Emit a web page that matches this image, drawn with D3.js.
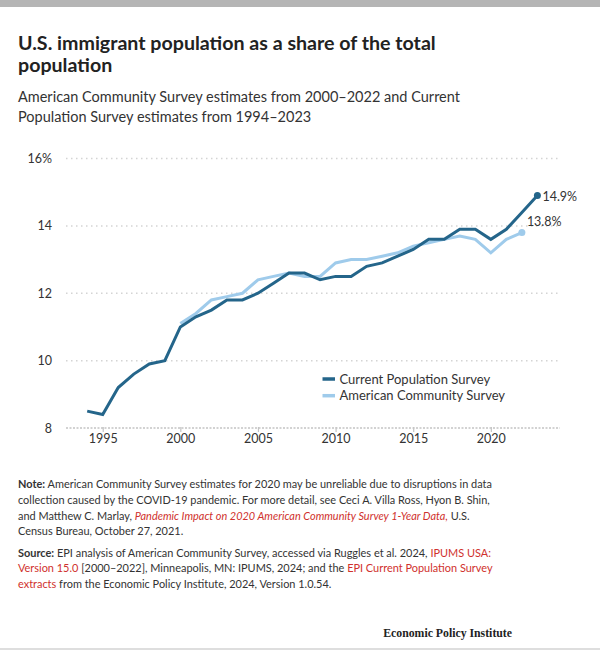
<!DOCTYPE html>
<html>
<head>
<meta charset="utf-8">
<script src="https://cdn.jsdelivr.net/npm/d3@7"></script>
<style>
  html, body { margin: 0; padding: 0; background: #fff; }
  svg { display: block; }
</style>
</head>
<body>
<svg id="chart" width="600" height="652"></svg>
<script>
// ---------- DATA ----------
const cpsYears = [1994,1995,1996,1997,1998,1999,2000,2001,2002,2003,2004,2005,2006,2007,2008,2009,2010,2011,2012,2013,2014,2015,2016,2017,2018,2019,2020,2021,2022,2023];
const cpsValues = [8.5,8.4,9.2,9.6,9.9,10.0,11.0,11.3,11.5,11.8,11.8,12.0,12.3,12.6,12.6,12.4,12.5,12.5,12.8,12.9,13.1,13.3,13.6,13.6,13.9,13.9,13.6,13.9,14.4,14.9];
const acsYears = [2000,2001,2002,2003,2004,2005,2006,2007,2008,2009,2010,2011,2012,2013,2014,2015,2016,2017,2018,2019,2020,2021,2022];
const acsValues = [11.1,11.4,11.8,11.9,12.0,12.4,12.5,12.6,12.5,12.5,12.9,13.0,13.0,13.1,13.2,13.4,13.5,13.6,13.7,13.6,13.2,13.6,13.8];
const seriesNames = ["Current Population Survey", "American Community Survey"];
const yTicks = [8, 10, 12, 14, 16];
const xTicks = [1995, 2000, 2005, 2010, 2015, 2020];

const titleLines = ["U.S. immigrant population as a share of the total", "population"];
const subtitleLines = ["American Community Survey estimates from 2000\u20132022 and Current", "Population Survey estimates from 1994\u20132023"];

// ---------- STYLE ----------
const darkBlue = "#24658a";
const lightBlue = "#9fcbeb";
const textColor = "#333333";
const red = "#d0312d";
const sans = "Lato, 'Open Sans', sans-serif";

const svg = d3.select("#chart");

// fit a text element's font-size so that its first line spans the target width
function fitSize(sel, baseSize, target, lineSel) {
  sel.attr("font-size", baseSize);
  const node = lineSel ? lineSel.node() : sel.node();
  const w = node.getComputedTextLength();
  const fs = baseSize * target / w;
  sel.attr("font-size", fs);
  return fs;
}

// frame
svg.append("rect").attr("x", 0).attr("y", 0).attr("width", 600).attr("height", 7).attr("fill", "#b5b5b5");
svg.append("rect").attr("x", 0).attr("y", 648).attr("width", 600).attr("height", 2).attr("fill", "#dedede");

// title
const title = svg.append("text").attr("font-family", sans).attr("font-weight", 700)
  .attr("font-size", 20).attr("fill", "#222");
const tl = titleLines.map((t, i) => title.append("tspan").attr("x", 18).attr("y", 50 + i * 21.5).text(t));
fitSize(title, 20, 418, tl[0]);

const sub = svg.append("text").attr("font-family", sans).attr("font-size", 16).attr("fill", textColor);
const sl = subtitleLines.map((t, i) => sub.append("tspan").attr("x", 18).attr("y", 102 + i * 20).text(t));
fitSize(sub, 16, 442, sl[0]);

// scales
const x = d3.scaleLinear().domain([1994, 2023]).range([87.2, 537.4]);
const y = d3.scaleLinear().domain([8, 16]).range([428, 158.5]);
const gridLeft = 66, gridRight = 560;

// gridlines
const g = svg.append("g");
g.selectAll("line.grid").data(yTicks).join("line")
  .attr("x1", gridLeft).attr("x2", gridRight)
  .attr("y1", d => y(d)).attr("y2", d => y(d))
  .attr("stroke", d => d === 8 ? "#c4c4c4" : "#d4d4d4")
  .attr("stroke-width", 1.5)
  .attr("stroke-dasharray", d => d === 8 ? "2,1.5" : "1.5,3.5");

// y labels
g.selectAll("text.ylab").data(yTicks).join("text")
  .attr("x", 52).attr("y", d => y(d) + 4.5)
  .attr("text-anchor", "end").attr("font-family", sans).attr("font-size", 12.5).attr("fill", textColor)
  .text(d => d === 16 ? d + "%" : d);

// x axis
const xAxis = d3.axisBottom(x).tickValues(xTicks).tickFormat(d3.format("d")).tickSize(5).tickSizeOuter(0);
const ax = svg.append("g").attr("transform", `translate(0,${y(8) - 1})`).call(xAxis);
ax.select(".domain").remove();
ax.selectAll(".tick line").attr("stroke", "#c4c4c4").attr("stroke-width", 1.2);
ax.selectAll(".tick text").attr("font-family", sans).attr("font-size", 12.5).attr("fill", textColor).attr("dy", "0.9em").attr("y", 5);

// lines
const line = d3.line().x(d => x(d[0])).y(d => y(d[1]));
const acs = acsYears.map((yr, i) => [yr, acsValues[i]]);
const cps = cpsYears.map((yr, i) => [yr, cpsValues[i]]);

svg.append("path").datum(acs).attr("d", line).attr("fill", "none")
  .attr("stroke", lightBlue).attr("stroke-width", 3).attr("stroke-linejoin", "miter");
svg.append("path").datum(cps).attr("d", line).attr("fill", "none")
  .attr("stroke", darkBlue).attr("stroke-width", 3).attr("stroke-linejoin", "miter");

// end points + labels
const lastCps = cps[cps.length - 1];
const lastAcs = acs[acs.length - 1];
svg.append("circle").attr("cx", x(lastAcs[0])).attr("cy", y(lastAcs[1])).attr("r", 3.5).attr("fill", lightBlue);
svg.append("circle").attr("cx", x(lastCps[0])).attr("cy", y(lastCps[1])).attr("r", 3.5).attr("fill", darkBlue);
svg.append("text").attr("x", x(lastCps[0]) + 5).attr("y", y(lastCps[1]) + 5.5)
  .attr("font-family", sans).attr("font-size", 12.5).attr("fill", textColor).text(lastCps[1].toFixed(1) + "%");
svg.append("text").attr("x", x(lastAcs[0]) + 5).attr("y", y(lastAcs[1]) - 6.5)
  .attr("font-family", sans).attr("font-size", 12.5).attr("fill", textColor).text(lastAcs[1].toFixed(1) + "%");

// legend
const legend = svg.append("g");
[darkBlue, lightBlue].forEach((c, i) => {
  const ly = 379 + i * 16.7;
  legend.append("line").attr("x1", 322.5).attr("x2", 335).attr("y1", ly).attr("y2", ly)
    .attr("stroke", c).attr("stroke-width", 3.5);
  legend.append("text").attr("x", 339.5).attr("y", ly + 4.5)
    .attr("font-family", sans).attr("font-size", 13).attr("fill", textColor).text(seriesNames[i]);
});

// notes
function para(lines, y0) {
  const t = svg.append("text").attr("font-family", sans).attr("font-size", 12).attr("fill", textColor);
  const lns = [];
  lines.forEach((segs, i) => {
    const ln = t.append("tspan").attr("x", 18).attr("y", y0 + i * 15.8);
    lns.push(ln);
    segs.forEach(s => {
      const ts = ln.append("tspan").text(s.t).attr("fill", s.c || textColor);
      if (s.b) ts.attr("font-weight", 700);
      if (s.i) ts.attr("font-style", "italic");
    });
  });
  return {t, lns};
}
const note = para([
  [{t: "Note:", b: 1}, {t: " American Community Survey estimates for 2020 may be unreliable due to disruptions in data"}],
  [{t: "collection caused by the COVID-19 pandemic. For more detail, see Ceci A. Villa Ross, Hyon B. Shin,"}],
  [{t: "and Matthew C. Marlay, "}, {t: "Pandemic Impact on 2020 American Community Survey 1-Year Data,", c: red, i: 1}, {t: " U.S."}],
  [{t: "Census Bureau, October 27, 2021."}]
], 488);
const src = para([
  [{t: "Source:", b: 1}, {t: " EPI analysis of American Community Survey, accessed via Ruggles et al. 2024, "}, {t: "IPUMS USA:", c: red}],
  [{t: "Version 15.0", c: red}, {t: " [2000\u20132022], Minneapolis, MN: IPUMS, 2024; and the "}, {t: "EPI Current Population Survey", c: red}],
  [{t: "extracts", c: red}, {t: " from the Economic Policy Institute, 2024, Version 1.0.54."}]
], 556.5);
const nfs = fitSize(note.t, 12, 474, note.lns[0]);
src.t.attr("font-size", nfs);

const epi = svg.append("text").attr("x", 512).attr("y", 637).attr("text-anchor", "end")
  .attr("font-family", "'Liberation Serif', 'DejaVu Serif', serif").attr("font-weight", 700)
  .attr("font-size", 13).attr("fill", "#222").text("Economic Policy Institute");
fitSize(epi, 13, 129);
</script>
</body>
</html>
